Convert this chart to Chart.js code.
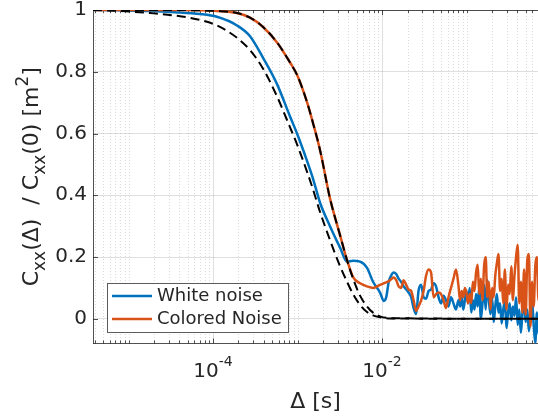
<!DOCTYPE html>
<html>
<head>
<meta charset="utf-8">
<script src="https://cdn.jsdelivr.net/npm/chart.js@4.4.0/dist/chart.umd.min.js"></script>
<style>
  html, body { margin: 0; padding: 0; background: #fff; }
  #wrap { width: 538px; height: 418px; }
</style>
</head>
<body>
<div id="wrap"><canvas id="chart" width="538" height="418"></canvas></div>
<script>
// lag values (s)
const lags = [
  3.8e-6, 7.9e-6, 1.8e-5, 3.55e-5, 7.0e-5, 1.11e-4, 1.92e-4, 2.74e-4, 3.91e-4, 5.72e-4,
  8.15e-4, 9.86e-4, 1.30e-3, 1.52e-3, 1.85e-3, 2.42e-3, 3.19e-3, 3.85e-3, 4.54e-3, 5.49e-3,
  6.64e-3, 7.82e-3, 9.46e-3,
  0.0105, 0.0112, 0.0120, 0.0128, 0.0137, 0.0147, 0.0157, 0.0168, 0.0180, 0.0193,
  0.0206, 0.0221, 0.0236, 0.0253, 0.0270, 0.0290, 0.0310, 0.0332, 0.0355, 0.0380,
  0.0407, 0.0435, 0.0466, 0.0499, 0.0534, 0.0571, 0.0611, 0.0654, 0.0700, 0.0750, 0.0800,
  0.0838, 0.0875, 0.0914, 0.0954, 0.0997, 0.1041, 0.1088, 0.1136, 0.1187, 0.1240,
  0.1295, 0.1353, 0.1413, 0.1476, 0.1542, 0.1611, 0.1683, 0.1758, 0.1836, 0.1918,
  0.2003, 0.2093, 0.2186, 0.2283, 0.2385, 0.2491, 0.2602, 0.2718, 0.2839, 0.2966,
  0.3098, 0.3236, 0.3381, 0.3531, 0.3688, 0.3853, 0.4025, 0.4204, 0.4391, 0.4587,
  0.4791, 0.5005, 0.5228, 0.5461, 0.5704, 0.5958, 0.6224, 0.6501, 0.6791, 0.7094, 0.7410
];

const whiteNoise = [
  1.0, 0.999, 0.997, 0.993, 0.987, 0.978, 0.95, 0.915, 0.845, 0.76,
  0.655, 0.60, 0.51, 0.455, 0.375, 0.30, 0.23, 0.185, 0.188, 0.185,
  0.165, 0.12, 0.085,
  0.058, 0.07, 0.12, 0.14, 0.15, 0.145, 0.13, 0.12, 0.105, 0.095,
  0.085, 0.07, 0.035, 0.015, 0.09, 0.11, 0.07, 0.065, 0.09, 0.095,
  0.115, 0.105, 0.07, 0.05, 0.075, 0.06, 0.04, 0.07, 0.05, 0.03, 0.06,
  0.04, 0.07, 0.03, 0.06, 0.09, 0.05, 0.10, 0.02, 0.06, 0.03,
  0.08, 0.04, 0.10, 0.0, 0.05, 0.11, 0.03, 0.126, 0.06, 0.015,
  0.07, -0.01, 0.04, 0.08, 0.02, 0.05, -0.015, 0.03, 0.06, -0.03,
  0.02, 0.05, -0.005, 0.04, 0.01, 0.07, -0.02, 0.03, -0.045, 0.02,
  0.05, -0.01, 0.03, -0.04, 0.01, 0.06, -0.02, -0.078, 0.02, -0.05, 0.0
];

const coloredNoise = [
  1.0, 1.0, 1.0, 1.0, 0.999, 0.997, 0.99, 0.975, 0.945, 0.895,
  0.83, 0.79, 0.70, 0.635, 0.545, 0.39, 0.27, 0.19, 0.135, 0.115,
  0.105, 0.10, 0.11,
  0.115, 0.118, 0.122, 0.128, 0.134, 0.125, 0.105, 0.10, 0.125, 0.11,
  0.095, 0.09, 0.06, 0.025, 0.04, 0.06, 0.09, 0.14, 0.16, 0.15,
  0.07, 0.08, 0.085, 0.08, 0.06, 0.035, 0.07, 0.10, 0.13, 0.16, 0.11,
  0.06, 0.09, 0.07, 0.10, 0.085, 0.05, 0.08, 0.05, 0.12, 0.09,
  0.15, 0.175, 0.08, 0.13, 0.06, 0.17, 0.20, 0.07, 0.12, 0.03,
  0.10, 0.07, 0.14, 0.18, 0.21, 0.09, 0.13, 0.05, 0.16, 0.03,
  0.11, 0.08, 0.17, 0.06, 0.14, 0.20, 0.24, 0.05, 0.12, 0.02,
  0.16, 0.013, 0.19, 0.21, -0.025, 0.12, 0.04, 0.17, 0.20, 0.06, 0.12
];

// theoretical curves (dashed)
const theoryLags = [
  3.8e-6, 7.9e-6, 1.8e-5, 3.55e-5, 7.0e-5, 1.11e-4, 1.92e-4, 2.74e-4, 3.91e-4, 5.72e-4,
  8.15e-4, 9.86e-4, 1.30e-3, 1.52e-3, 1.85e-3, 2.42e-3, 3.19e-3, 3.85e-3, 4.54e-3, 5.49e-3,
  6.64e-3, 7.82e-3, 9.46e-3, 0.0128, 0.741
];
const theoryWhite = [
  1.0, 0.997, 0.99, 0.982, 0.968, 0.95, 0.91, 0.87, 0.81, 0.72,
  0.62, 0.565, 0.475, 0.42, 0.345, 0.255, 0.17, 0.12, 0.08, 0.045,
  0.022, 0.011, 0.005, 0.001, 0.0
];
const theoryColored = [
  1.0, 1.0, 1.0, 1.0, 0.999, 0.997, 0.99, 0.975, 0.945, 0.895,
  0.83, 0.79, 0.70, 0.635, 0.545, 0.39, 0.27, 0.19, 0.13, 0.075,
  0.04, 0.02, 0.008, 0.002, 0.0
];

const seriesNames = ['White noise', 'Colored Noise'];
const xMajorTicks = [1e-4, 1e-2];
const yTicks = [0, 0.2, 0.4, 0.6, 0.8, 1];

const BLUE = '#0072BD';
const ORANGE = '#D95319';
const TEXT = '#262626';
const FONT = "'DejaVu Sans', sans-serif";

const pts = (xs, ys) => xs.map((x, i) => ({ x: x, y: ys[i] }));

// minor grid, inward ticks, box, labels and legend
const decor = {
  id: 'decor',
  beforeDatasetsDraw(chart) {
    const ctx = chart.ctx;
    const a = chart.chartArea;
    const xs = chart.scales.x;
    const ys = chart.scales.y;
    ctx.save();
    // minor x grid
    ctx.strokeStyle = 'rgba(38,38,38,0.16)';
    ctx.lineWidth = 1;
    ctx.setLineDash([1, 2]);
    const minors = [];
    for (let k = -6; k <= 0; k++) {
      for (let m = 1; m <= 9; m++) {
        const v = m * Math.pow(10, k);
        if (v >= xs.min && v <= xs.max) minors.push(v);
      }
    }
    minors.forEach(v => {
      if (xMajorTicks.some(t => Math.abs(t - v) / t < 1e-6)) return;
      const px = Math.round(xs.getPixelForValue(v)) + 0.5;
      ctx.beginPath();
      ctx.moveTo(px, a.top);
      ctx.lineTo(px, a.bottom);
      ctx.stroke();
    });
    ctx.setLineDash([]);
    // tick marks
    ctx.strokeStyle = 'rgba(38,38,38,0.8)';
    minors.forEach(v => {
      const major = xMajorTicks.some(t => Math.abs(t - v) / t < 1e-6);
      const len = major ? 5 : 3;
      const px = Math.round(xs.getPixelForValue(v)) + 0.5;
      ctx.beginPath();
      ctx.moveTo(px, a.bottom);
      ctx.lineTo(px, a.bottom - len);
      ctx.moveTo(px, a.top);
      ctx.lineTo(px, a.top + len);
      ctx.stroke();
    });
    yTicks.forEach(v => {
      const py = Math.round(ys.getPixelForValue(v)) + 0.5;
      ctx.beginPath();
      ctx.moveTo(a.left, py);
      ctx.lineTo(a.left + 5, py);
      ctx.stroke();
    });
    // top border
    ctx.beginPath();
    ctx.moveTo(a.left, Math.round(a.top) + 0.5);
    ctx.lineTo(a.right, Math.round(a.top) + 0.5);
    ctx.stroke();
    ctx.restore();
  },
  afterDraw(chart) {
    const ctx = chart.ctx;
    const a = chart.chartArea;
    const xs = chart.scales.x;
    ctx.save();
    ctx.fillStyle = TEXT;
    ctx.textBaseline = 'alphabetic';
    ctx.textAlign = 'left';

    // x tick labels 10^k
    xMajorTicks.forEach(v => {
      const exp = String(Math.round(Math.log10(v)));
      ctx.font = '20px ' + FONT;
      const wb = ctx.measureText('10').width;
      ctx.font = '14px ' + FONT;
      const we = ctx.measureText(exp).width;
      const x0 = xs.getPixelForValue(v) - (wb + we) / 2;
      ctx.font = '20px ' + FONT;
      ctx.fillText('10', x0, 377);
      ctx.font = '14px ' + FONT;
      ctx.fillText(exp, x0 + wb, 366);
    });

    // x title
    ctx.font = '22px ' + FONT;
    ctx.textAlign = 'center';
    ctx.fillText('\u0394 [s]', (a.left + a.right) / 2, 408);

    // y title with sub/superscripts
    const segs = [
      { t: 'C', s: 0 }, { t: 'xx', s: 1 }, { t: '(\u0394)  / C', s: 0 },
      { t: 'xx', s: 1 }, { t: '(0) [m', s: 0 }, { t: '2', s: 2 }, { t: ']', s: 0 }
    ];
    const fontFor = s => (s === 0 ? '22px ' : '17px ') + FONT;
    let total = 0;
    segs.forEach(g => { ctx.font = fontFor(g.s); g.w = ctx.measureText(g.t).width; total += g.w; });
    ctx.translate(38, (a.top + a.bottom) / 2);
    ctx.rotate(-Math.PI / 2);
    ctx.textAlign = 'left';
    let cx = -total / 2;
    segs.forEach(g => {
      ctx.font = fontFor(g.s);
      const dy = g.s === 1 ? 7 : g.s === 2 ? -10 : 0;
      ctx.fillText(g.t, cx, dy);
      cx += g.w;
    });
    ctx.setTransform(1, 0, 0, 1, 0, 0);

    // legend
    const bx = 107.5, by = 283.5, bw = 181, bh = 49;
    ctx.fillStyle = '#fff';
    ctx.fillRect(bx, by, bw, bh);
    ctx.strokeStyle = 'rgba(38,38,38,0.75)';
    ctx.lineWidth = 1;
    ctx.strokeRect(bx, by, bw, bh);
    const rows = [[seriesNames[0], BLUE, 296], [seriesNames[1], ORANGE, 319]];
    rows.forEach(r => {
      ctx.strokeStyle = r[1];
      ctx.lineWidth = 2.5;
      ctx.beginPath();
      ctx.moveTo(112, r[2]);
      ctx.lineTo(152, r[2]);
      ctx.stroke();
      ctx.fillStyle = TEXT;
      ctx.font = '18px ' + FONT;
      ctx.textAlign = 'left';
      ctx.textBaseline = 'middle';
      ctx.fillText(r[0], 157, r[2]);
    });
    ctx.restore();
  }
};

new Chart(document.getElementById('chart').getContext('2d'), {
  type: 'line',
  data: {
    datasets: [
      {
        label: 'theory colored',
        data: pts(theoryLags, theoryColored),
        borderColor: '#000',
        borderWidth: 2,
        borderDash: [9, 5],
        pointRadius: 0,
        cubicInterpolationMode: 'monotone',
      },
      {
        label: 'theory white',
        data: pts(theoryLags, theoryWhite),
        borderColor: '#000',
        borderWidth: 2,
        borderDash: [9, 5],
        pointRadius: 0,
        cubicInterpolationMode: 'monotone',
      },
      {
        label: seriesNames[1],
        data: pts(lags, coloredNoise),
        borderColor: ORANGE,
        borderWidth: 2.5,
        pointRadius: 0,
        cubicInterpolationMode: 'monotone',
      },
      {
        label: seriesNames[0],
        data: pts(lags, whiteNoise),
        borderColor: BLUE,
        borderWidth: 2.5,
        pointRadius: 0,
        cubicInterpolationMode: 'monotone',
      },
    ]
  },
  options: {
    responsive: false,
    animation: false,
    devicePixelRatio: 1,
    layout: { padding: { top: 10, left: 0, right: 0, bottom: 0 } },
    plugins: { legend: { display: false }, tooltip: { enabled: false } },
    scales: {
      x: {
        type: 'logarithmic',
        min: 3.8e-6,
        max: 0.70,
        afterBuildTicks: s => { s.ticks = xMajorTicks.map(v => ({ value: v })); },
        afterFit: s => { s.height = 74.5; s.paddingLeft = 0; s.paddingRight = 0; },
        ticks: { display: false },
        grid: { color: 'rgba(38,38,38,0.15)', drawTicks: false },
        border: { color: 'rgba(38,38,38,0.8)' },
      },
      y: {
        type: 'linear',
        min: -0.08,
        max: 1,
        afterBuildTicks: s => { s.ticks = yTicks.map(v => ({ value: v })); },
        afterFit: s => { s.width = 93; s.paddingTop = 0; s.paddingBottom = 0; },
        ticks: {
          padding: 6,
          color: TEXT,
          font: { family: FONT, size: 20 },
          callback: v => (v === 0 || v === 1) ? String(v) : v.toFixed(1),
        },
        grid: { color: 'rgba(38,38,38,0.15)', drawTicks: false },
        border: { color: 'rgba(38,38,38,0.8)' },
      }
    }
  },
  plugins: [decor]
});
</script>
</body>
</html>
